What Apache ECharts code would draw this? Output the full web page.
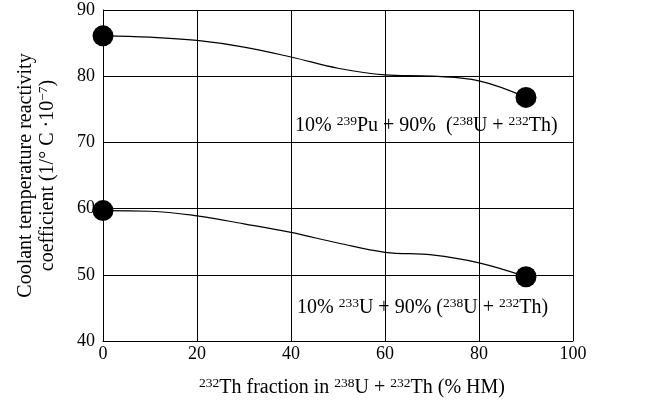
<!DOCTYPE html>
<html><head><meta charset="utf-8">
<script src="https://cdn.jsdelivr.net/npm/echarts@6/dist/echarts.min.js"></script>
<style>html,body{margin:0;padding:0;background:#fff}#c{width:656px;height:408px}</style>
</head><body><div id="c"></div>
<script>
const xTicks = [0, 20, 40, 60, 80, 100];
const yTicks = [40, 50, 60, 70, 80, 90];
const thFraction = [0, 10, 20, 30, 40, 50, 60, 70, 80, 90];
const puSeries = [86.1, 85.9, 85.4, 84.4, 82.9, 81.2, 80.2, 80.0, 79.3, 76.8];
const uSeries = [59.7, 59.6, 58.9, 57.7, 56.4, 54.8, 53.4, 53.0, 51.8, 49.7];
const puLabel = ['10% ', '239', 'Pu + 90%  (', '238', 'U + ', '232', 'Th)'];
const uLabel = ['10% ', '233', 'U + 90% (', '238', 'U + ', '232', 'Th)'];
const xName = ['', '232', 'Th fraction in ', '238', 'U + ', '232', 'Th (% HM)'];
const yName1 = 'Coolant temperature reactivity';
const yName2 = ['coefficient (1/° C ·10', '−7', ')'];
const FONT = '"Liberation Serif", "Times New Roman", serif';

function richStr(parts) {
  return parts.map((p, i) => i % 2 === 1 ? '{s|' + p + '}' : '{n|' + p + '}').join('');
}
const rich = {
  n: { fontFamily: FONT, fontSize: 20, color: '#000', lineHeight: 22 },
  s: { fontFamily: FONT, fontSize: 13.5, color: '#000', lineHeight: 22, padding: [0, 0, 9, 0] }
};

function mkData(xs, ys) {
  return xs.map((x, i) => ({
    value: [x, ys[i]],
    symbolSize: (i === 0 || i === xs.length - 1) ? 21 : 0
  }));
}

const chart = echarts.init(document.getElementById('c'));
chart.setOption({
  animation: false,
  backgroundColor: '#fff',
  grid: { left: 103, right: 83, top: 10, bottom: 67, containLabel: false, outerBoundsMode: 'none' },
  xAxis: {
    type: 'value', min: xTicks[0], max: xTicks[xTicks.length - 1], interval: 20,
    axisLine: { lineStyle: { color: '#000', width: 1 } },
    axisTick: { show: false },
    splitLine: { show: true, lineStyle: { color: '#000', width: 1 } },
    axisLabel: { fontFamily: FONT, fontSize: 18, color: '#000', margin: 4 },
    name: richStr(xName),
    nameLocation: 'middle', nameGap: 36,
    nameTextStyle: { rich: rich, padding: [0, 0, 0, 28] }
  },
  yAxis: {
    type: 'value', min: yTicks[0], max: yTicks[yTicks.length - 1], interval: 10,
    axisLine: { show: true, lineStyle: { color: '#000', width: 1 } },
    axisTick: { show: false },
    splitLine: { show: true, lineStyle: { color: '#000', width: 1 } },
    axisLabel: { fontFamily: FONT, fontSize: 18, color: '#000', margin: 8 },
    name: '{n|' + yName1 + '}\n' + richStr(yName2),
    nameLocation: 'middle', nameGap: 44,
    nameTextStyle: { rich: rich, align: 'center' }
  },
  series: [
    {
      type: 'line', smooth: 0.4, symbol: 'circle',
      data: mkData(thFraction, puSeries),
      lineStyle: { color: '#000', width: 1.2 },
      itemStyle: { color: '#000' }
    },
    {
      type: 'line', smooth: 0.4, symbol: 'circle',
      data: mkData(thFraction, uSeries),
      lineStyle: { color: '#000', width: 1.2 },
      itemStyle: { color: '#000' }
    }
  ],
  graphic: [
    { type: 'text', left: 295, top: 114, style: { text: richStr(puLabel), rich: rich } },
    { type: 'text', left: 297, top: 296, style: { text: richStr(uLabel), rich: rich } }
  ]
});
</script></body></html>
